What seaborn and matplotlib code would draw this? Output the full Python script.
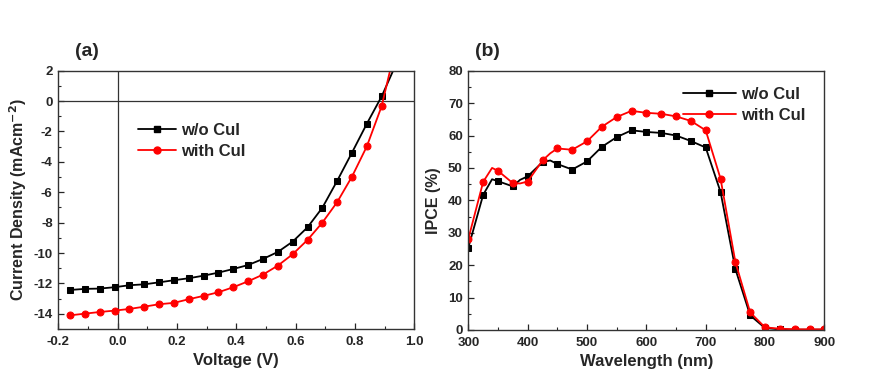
import numpy as np
import pandas as pd
import matplotlib
matplotlib.use("Agg")
import matplotlib.pyplot as plt
from matplotlib.lines import Line2D
import seaborn as sns
from matplotlib.ticker import MultipleLocator

# (a) J-V curves
voltage = [-0.16, -0.11, -0.06, -0.01, 0.04, 0.09, 0.14, 0.19, 0.24, 0.29, 0.34,
           0.39, 0.44, 0.49, 0.54, 0.59, 0.64, 0.69, 0.74, 0.79, 0.84, 0.89, 0.94]
j_wo = [-12.43, -12.36, -12.34, -12.25, -12.12, -12.06, -11.93, -11.79, -11.66, -11.49, -11.29,
        -11.05, -10.79, -10.39, -9.93, -9.25, -8.31, -7.02, -5.25, -3.39, -1.49, 0.31, 2.5]
j_with = [-14.10, -13.99, -13.88, -13.79, -13.68, -13.53, -13.37, -13.28, -13.04, -12.82, -12.58,
          -12.25, -11.86, -11.42, -10.83, -10.08, -9.14, -8.00, -6.65, -4.97, -2.98, -0.33, 3.8]

# (b) IPCE spectra
wavelength = [300, 325, 340, 350, 375, 387, 400, 425, 438, 450, 475, 500, 525, 550, 575,
              600, 625, 650, 675, 700, 725, 750, 775, 800, 825, 850, 875, 900]
ipce_wo = [25.4, 41.7, 46.5, 45.9, 44.3, 46.3, 47.4, 51.8, 52.3, 51.2, 49.5, 52.0, 56.5, 59.5, 61.6,
           61.1, 60.8, 60.0, 58.3, 56.3, 42.6, 18.8, 4.5, 0.6, 0.2, 0.1, 0.1, 0.1]
ipce_with = [28.1, 45.7, 50.0, 49.1, 45.3, 45.2, 45.8, 52.3, 54.5, 56.0, 55.6, 58.2, 62.7, 65.7, 67.6,
             67.0, 66.7, 65.9, 64.5, 61.6, 46.7, 21.0, 5.4, 0.8, 0.4, 0.2, 0.2, 0.2]
marked_wl = list(range(300, 901, 25))

labels = ["w/o CuI", "with CuI"]
colors = ["black", "red"]
markers = ["s", "o"]

sns.set_style("ticks")
plt.rcParams["font.family"] = ["Liberation Sans", "DejaVu Sans"]
plt.rcParams["font.weight"] = "bold"
plt.rcParams["axes.labelweight"] = "bold"
plt.rcParams["axes.unicode_minus"] = False
plt.rcParams["xtick.direction"] = "in"
plt.rcParams["ytick.direction"] = "in"

fig = plt.figure(figsize=(8.87, 3.81), dpi=100)
ax1 = fig.add_axes([0.0657, 0.1365, 0.4014, 0.678])
ax2 = fig.add_axes([0.528, 0.1339, 0.4014, 0.6806])

# panel (a)
ax1.axhline(0, color="#333333", lw=0.9, zorder=1)
ax1.axvline(0, color="#333333", lw=0.9, zorder=1)
sns.lineplot(x=voltage, y=j_wo, ax=ax1, color=colors[0], marker=markers[0], markersize=5,
             mec=colors[0], lw=1.3)
sns.lineplot(x=voltage, y=j_with, ax=ax1, color=colors[1], marker=markers[1], markersize=5,
             mec=colors[1], lw=1.3)
ax1.set_xlim(-0.2, 1.0)
ax1.set_ylim(-15, 2)
ax1.xaxis.set_major_locator(MultipleLocator(0.2))
ax1.xaxis.set_minor_locator(MultipleLocator(0.1))
ax1.yaxis.set_major_locator(MultipleLocator(2))
ax1.yaxis.set_minor_locator(MultipleLocator(1))
ax1.set_yticks(np.arange(-14, 3, 2))
ax1.set_xlabel("Voltage (V)", fontsize=12)
ax1.set_ylabel("Current Density (mAcm$^{\\mathbf{-2}}$)", fontsize=11.5)

handles = [Line2D([], [], color=c, marker=m, markersize=5, mec=c, lw=1.3)
           for c, m in zip(colors, markers)]
ax1.legend(handles, labels, loc="upper left", bbox_to_anchor=(0.2, 0.83), frameon=False,
           fontsize=12, handlelength=2.3, handletextpad=0.3, borderpad=0, labelspacing=0.35)
ax1.text(0.048, 1.073, "(a)", transform=ax1.transAxes, fontsize=14, fontweight="bold",
         ha="left", va="center")

# panel (b)
wl = np.array(wavelength)
mark_idx = [int(i) for i in np.where(np.isin(wl, marked_wl))[0]]
sns.lineplot(x=wavelength, y=ipce_wo, ax=ax2, color=colors[0], marker=markers[0], markersize=5,
             mec=colors[0], lw=1.3, markevery=mark_idx)
sns.lineplot(x=wavelength, y=ipce_with, ax=ax2, color=colors[1], marker=markers[1], markersize=5,
             mec=colors[1], lw=1.3, markevery=mark_idx)
ax2.set_xlim(300, 900)
ax2.set_ylim(0, 80)
ax2.xaxis.set_major_locator(MultipleLocator(100))
ax2.xaxis.set_minor_locator(MultipleLocator(50))
ax2.yaxis.set_major_locator(MultipleLocator(10))
ax2.yaxis.set_minor_locator(MultipleLocator(5))
ax2.set_xlabel("Wavelength (nm)", fontsize=12)
ax2.set_ylabel("IPCE (%)", fontsize=11.5)
ax2.legend(handles, labels, loc="upper right", bbox_to_anchor=(0.97, 0.97), frameon=False,
           fontsize=12, handlelength=3.2, handletextpad=0.3, borderpad=0, labelspacing=0.35)
ax2.text(0.02, 1.073, "(b)", transform=ax2.transAxes, fontsize=14, fontweight="bold",
         ha="left", va="center")

for ax in (ax1, ax2):
    for s in ax.spines.values():
        s.set_visible(True)
        s.set_linewidth(1.0)
        s.set_color("#333333")
    ax.tick_params(which="major", length=4, width=0.9, labelsize=9.5,
                   top=False, right=False)
    ax.tick_params(which="minor", length=2.5, width=0.8, top=False, right=False)
    ax.tick_params(axis="x", which="major", pad=5)
    ax.tick_params(axis="y", which="major", pad=4)
    for t in ax.get_xticklabels() + ax.get_yticklabels():
        t.set_fontweight("bold")

ax1.yaxis.labelpad = 3
ax2.yaxis.labelpad = 5

fig.savefig("out.png", dpi=100)
